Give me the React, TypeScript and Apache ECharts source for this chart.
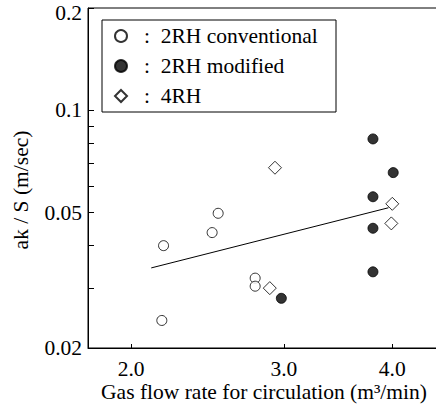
import React, { useEffect, useRef } from "react";
import * as echarts from "echarts";

// 2RH conventional
const convX = [2.18, 2.48, 2.52, 2.78, 2.78, 2.17];
const convY = [0.04, 0.0437, 0.0498, 0.0321, 0.0304, 0.0241];
// 2RH modified
const modX = [3.8, 4.01, 3.8, 3.8, 3.8, 2.98];
const modY = [0.0824, 0.0656, 0.0557, 0.045, 0.0335, 0.028];
// 4RH
const rh4X = [2.93, 4.0, 3.99, 2.89];
const rh4Y = [0.0678, 0.0531, 0.0465, 0.03];
// regression line
const fitX = [2.11, 3.96];
const fitY = [0.0344, 0.0517];

const seriesNames = ["2RH conventional", "2RH modified", "4RH"];
const xTicks = [2, 3, 4];
const yTicks = [0.02, 0.03, 0.04, 0.05, 0.06, 0.07, 0.08, 0.09, 0.1, 0.2];
const yLabels = [0.02, 0.05, 0.1, 0.2];
const yTitle = "ak / S (m/sec)";
const xTitle = "Gas flow rate for circulation (m³/min)";

const X_MIN = 1.784;
const X_MAX = 4.54;
const Y_MIN = 0.02;
const Y_MAX = 0.2;

const FONT = "'Liberation Serif', 'DejaVu Serif', serif";
const FS = 21.5;

const zip = (xs: number[], ys: number[]) => xs.map((x, i) => [x, ys[i]]);

export default function App() {
  const ref = useRef<HTMLDivElement>(null);
  useEffect(() => {
    if (!ref.current) return;
    const chart = echarts.init(ref.current, null, { renderer: "svg" });
    const textStyle = { fontFamily: FONT, color: "#000", fontSize: FS };
    chart.setOption({
      animation: false,
      backgroundColor: "#fff",
      textStyle,
      grid: {
        left: 88,
        top: 8,
        right: -4,
        bottom: 69,
        show: true,
        borderColor: "#000",
        borderWidth: 1,
        outerBoundsMode: "none",
        containLabel: false,
      },
      legend: {
        data: seriesNames,
        orient: "vertical",
        left: 114,
        top: 25,
        padding: 0,
        itemWidth: 12,
        itemHeight: 12,
        itemGap: 8,
        formatter: (n: string) => ":  " + n,
        textStyle: { ...textStyle, lineHeight: 21, padding: [0, 0, 0, 12] },
      },
      graphic: [
        {
          type: "rect",
          shape: { x: 102, y: 20, width: 234, height: 92 },
          style: { fill: "none", stroke: "#000", lineWidth: 1 },
          z: 10,
        },
        {
          type: "text",
          x: 21,
          y: 190,
          rotation: Math.PI / 2,
          style: {
            text: yTitle,
            fill: "#000",
            font: `${FS}px ${FONT}`,
            align: "center",
            verticalAlign: "middle",
          },
          z: 10,
        },
      ],
      xAxis: [
        {
          type: "log",
          min: X_MIN,
          max: X_MAX,
          axisLine: { show: true, lineStyle: { color: "#000" } },
          axisTick: { show: false },
          axisLabel: { show: false },
          splitLine: { show: false },
          name: xTitle,
          nameLocation: "middle",
          nameGap: 33,
          nameTextStyle: { ...textStyle },
        },
        {
          type: "value",
          position: "bottom",
          min: Math.log10(X_MIN),
          max: Math.log10(X_MAX),
          axisLine: { show: false },
          axisTick: {
            show: true,
            inside: true,
            length: 4,
            lineStyle: { color: "#000" },
            customValues: xTicks.map((v) => Math.log10(v)),
          },
          axisLabel: {
            ...textStyle,
            margin: 10,
            customValues: xTicks.map((v) => Math.log10(v)),
            formatter: (v: number) => Math.pow(10, v).toFixed(1),
          },
          splitLine: { show: false },
        },
      ],
      yAxis: [
        {
          type: "log",
          min: Y_MIN,
          max: Y_MAX,
          axisLine: { show: true, lineStyle: { color: "#000" } },
          axisTick: { show: false },
          axisLabel: { show: false },
          splitLine: { show: false },
        },
        {
          type: "value",
          position: "left",
          min: Math.log10(Y_MIN),
          max: Math.log10(Y_MAX),
          axisLine: { show: false },
          axisTick: {
            show: true,
            inside: true,
            length: 6,
            lineStyle: { color: "#000" },
            customValues: yTicks.map((v) => Math.log10(v)),
          },
          axisLabel: {
            ...textStyle,
            margin: 6,
            customValues: yLabels.map((v) => Math.log10(v)),
            formatter: (v: number) => {
              const s = String(Number(Math.pow(10, v).toPrecision(2)));
              return v >= Math.log10(Y_MAX) - 1e-9 ? `{top|${s}}` : s;
            },
            rich: {
              top: { ...textStyle, padding: [9, 0, 0, 0] },
            },
          },
          splitLine: { show: false },
        },
      ],
      series: [
        {
          type: "line",
          name: "fit",
          data: zip(fitX, fitY),
          xAxisIndex: 0,
          yAxisIndex: 0,
          showSymbol: false,
          symbol: "none",
          lineStyle: { color: "#000", width: 1 },
          z: 1,
        },
        {
          type: "scatter",
          name: seriesNames[0],
          data: zip(convX, convY),
          xAxisIndex: 0,
          yAxisIndex: 0,
          symbol: "circle",
          symbolSize: 10,
          itemStyle: { color: "#fff", borderColor: "#000", borderWidth: 1 },
          z: 3,
        },
        {
          type: "scatter",
          name: seriesNames[1],
          data: zip(modX, modY),
          xAxisIndex: 0,
          yAxisIndex: 0,
          symbol: "circle",
          symbolSize: 10,
          itemStyle: { color: "#000", borderColor: "#000", borderWidth: 1 },
          z: 3,
        },
        {
          type: "scatter",
          name: seriesNames[2],
          data: zip(rh4X, rh4Y),
          xAxisIndex: 0,
          yAxisIndex: 0,
          symbol: "diamond",
          symbolSize: 13,
          itemStyle: { color: "#fff", borderColor: "#000", borderWidth: 1 },
          z: 3,
        },
      ],
    });
    return () => chart.dispose();
  }, []);
  return (
    <div
      ref={ref}
      style={{ position: "absolute", left: 0, top: 0, width: 436, height: 417 }}
    />
  );
}
